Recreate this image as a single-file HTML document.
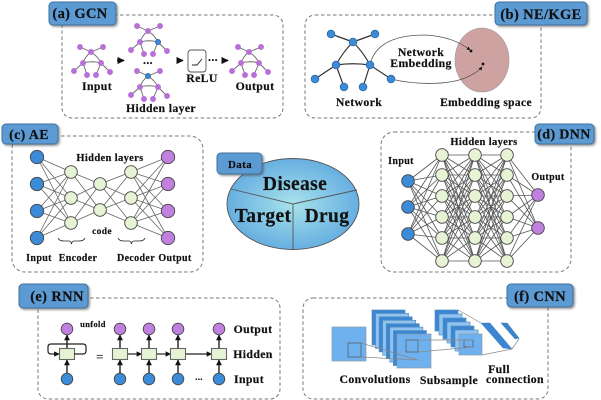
<!DOCTYPE html>
<html><head><meta charset="utf-8"><style>
html,body{margin:0;padding:0;background:#fff;width:601px;height:400px;overflow:hidden}
svg{display:block;filter:blur(.3px)}
text{font-family:"Liberation Serif",serif;font-weight:bold;fill:#111;stroke:#111;stroke-width:.18px;text-anchor:middle;letter-spacing:.35px}
.d{fill:none;stroke:#777;stroke-width:1;stroke-dasharray:3.5 2.5}
.lb{fill:#5b9ad4;stroke:#41719c;stroke-width:1;filter:url(#sh)}
.t{font-size:11.8px}.l{font-size:14.5px}
</style></head><body>
<svg id="s" xmlns="http://www.w3.org/2000/svg" width="601" height="400" viewBox="0 0 601 400">
<defs>
<filter id="sh" x="-20%" y="-20%" width="150%" height="150%"><feDropShadow dx="1.5" dy="1.5" stdDeviation="1" flood-color="#555" flood-opacity=".6"/></filter>
<radialGradient id="pie" cx="50%" cy="50%" r="60%"><stop offset="0" stop-color="#a8e2ea"/><stop offset="1" stop-color="#5aa5e0"/></radialGradient>
<marker id="ar" viewBox="0 0 10 10" refX="9" refY="5" markerWidth="4.5" markerHeight="4.5" orient="auto"><path d="M0 0L10 5L0 10z" fill="#111"/></marker>
</defs>
<rect class="d" x="62" y="15" width="221" height="103" rx="10"/>
<rect class="d" x="305" y="15" width="236" height="103" rx="10"/>
<rect class="d" x="12" y="136" width="191" height="136" rx="13"/>
<rect class="d" x="381" y="132" width="190" height="140" rx="13"/>
<rect class="d" x="38" y="298" width="242" height="101" rx="10"/>
<rect class="d" x="303" y="298" width="245" height="101" rx="10"/>

<!-- embedding -->
<ellipse cx="482" cy="60" rx="27" ry="32" fill="#cfa2a2" stroke="#999" stroke-width=".6"/>
<path d="M370 65C375 42 398 35 425 35C445 36 460 42 470 50" fill="none" stroke="#555" stroke-width=".8" marker-end="url(#ar)"/>
<path d="M391 79C420 86 450 84 465 78C472 75 478 72 482 67" fill="none" stroke="#555" stroke-width=".8" marker-end="url(#ar)"/>
<circle cx="471" cy="51" r="1.4" fill="#111"/><circle cx="483" cy="64" r="1.4" fill="#111"/>

<g id="g"></g>

<!-- ReLU -->
<rect x="188" y="50" width="18" height="22" rx="3" fill="#fff" stroke="#555" stroke-width=".9"/>
<path d="M192 65H197L202 59" fill="none" stroke="#222" stroke-width=".9"/>

<!-- Braces -->
<path d="M58 238Q59 241 64 241H69Q71 241 71.500 244Q72 241 74 241H79Q84 241 85 238" fill="none" stroke="#222" stroke-width=".8"/>
<path d="M118 238Q119 241 124 241H129Q131 241 131.500 244Q132 241 134 241H139Q144 241 145 238" fill="none" stroke="#222" stroke-width=".8"/>

<!-- Pie -->
<ellipse cx="293" cy="204" rx="66" ry="45.500" fill="url(#pie)" stroke="#555" stroke-width=".9"/>
<path d="M231 189L293 204L357 190M293 204V249" fill="none" stroke="#555" stroke-width=".9"/>
<rect class="lb" x="217" y="153" width="45" height="21" rx="4"/>

<!-- Loop -->
<path d="M74 354H83Q86 354 86 351V347Q86 344 83 344H51Q48 344 48 347V351Q48 354 51 354H59" fill="none" stroke="#222" stroke-width="1.200" marker-end="url(#ar)"/>

<!-- CNN -->
<g id="cnn"></g>

<!-- labels -->
<rect class="lb" x="49" y="2" width="67" height="23" rx="4"/>
<rect class="lb" x="495" y="2" width="92" height="23" rx="4"/>
<rect class="lb" x="2" y="124" width="56" height="20" rx="4"/>
<rect class="lb" x="535" y="124" width="59" height="20" rx="4"/>
<rect class="lb" x="19" y="284" width="69" height="24" rx="4"/>
<rect class="lb" x="507" y="284" width="66" height="23" rx="4"/>

<text class="l" x="80" y="18">(a) GCN</text>
<text class="l" x="541" y="19">(b) NE/KGE</text>
<text class="l" x="29" y="139" style="font-size:14px">(c) AE</text>
<text class="l" x="564" y="138.500" style="font-size:14px">(d) DNN</text>
<text class="l" x="57" y="301">(e) RNN</text>
<text class="l" x="540" y="301">(f) CNN</text>
<text x="240" y="168" style="font-size:11px">Data</text>
<text x="295" y="190" style="font-size:19.500px">Disease</text>
<text x="263" y="222" style="font-size:19.500px">Target</text>
<text x="327" y="222" style="font-size:19.500px">Drug</text>

<text class="t" x="97" y="90">Input</text>
<text class="t" x="161" y="112">Hidden layer</text>
<text class="t" x="202" y="82">ReLU</text>
<text class="t" x="255" y="90">Output</text>
<text x="148" y="64" class="t">...</text>
<text x="213" y="61" class="t">...</text>

<text class="t" x="421" y="56">Network</text>
<text class="t" x="421" y="67">Embedding</text>
<text class="t" x="359" y="106">Network</text>
<text class="t" x="486" y="106" style="font-size:11.500px">Embedding space</text>

<text x="110" y="161" style="font-size:10.500px">Hidden layers</text>
<text x="102" y="234" style="font-size:9.500px">code</text>
<text x="39" y="261" style="font-size:10px">Input</text>
<text x="78" y="261" style="font-size:10px">Encoder</text>
<text x="136" y="261" style="font-size:10px">Decoder</text>
<text x="175" y="261" style="font-size:10px">Output</text>

<text x="484" y="145" style="font-size:10.500px">Hidden layers</text>
<text x="401" y="164" style="font-size:10px">Input</text>
<text x="548" y="180" style="font-size:10px">Output</text>

<text x="93" y="327" style="font-size:8.500px">unfold</text>
<text x="100" y="361" style="font-size:13px;fill:#555;stroke:#555">=</text>
<text x="199" y="380" style="font-size:9px">...</text>
<text class="t" x="253" y="333">Output</text>
<text class="t" x="253" y="358">Hidden</text>
<text class="t" x="249" y="383">Input</text>

<text class="t" x="375" y="383">Convolutions</text>
<text class="t" x="449" y="384">Subsample</text>
<text class="t" x="499" y="373">Full</text>
<text class="t" x="515" y="383">connection</text>
</svg>
<script>
var NS="http://www.w3.org/2000/svg",G=document.getElementById('g'),C=document.getElementById('cnn');
function el(p,n,a){var e=document.createElementNS(NS,n);for(var k in a)e.setAttribute(k,a[k]);p.appendChild(e);return e}
function ln(a,b,c,d,col,w,mk){var o={x1:a,y1:b,x2:c,y2:d,stroke:col||'#666','stroke-width':w||.8};if(mk)o['marker-end']='url(#ar)';el(G,'line',o)}
function circ(x,y,r,f,s){el(G,'circle',{cx:x,cy:y,r:r,fill:f,stroke:s||'#444','stroke-width':.9})}
var BL='#3b8bd8',GR='#e6f4d5',PU='#c080e0',GP='#b96fd8';
var N=[[80,47],[103,47],[91,52],[83,63],[101,63],[74,71],[87,75],[96,75],[110,72]];
function graph(dx,dy,col,ed,r,blue,w){
 var p=N.map(function(q){return [q[0]+dx,q[1]+dy]});
 [[0,2],[1,2],[3,5],[3,6],[4,7],[4,8]].forEach(function(e){ln(p[e[0]][0],p[e[0]][1],p[e[1]][0],p[e[1]][1],ed,w)});
 [[2,3,-2],[2,4,2]].forEach(function(e){var a=p[e[0]],b=p[e[1]];el(G,'path',{d:'M'+a[0]+' '+a[1]+'Q'+((a[0]+b[0])/2+e[2])+' '+((a[1]+b[1])/2-1)+' '+b[0]+' '+b[1],fill:'none',stroke:ed,'stroke-width':w})});
 var a=p[3],b=p[4];el(G,'path',{d:'M'+a[0]+' '+a[1]+'Q'+(a[0]+b[0])/2+' '+(a[1]-2.500)+' '+b[0]+' '+b[1],fill:'none',stroke:ed,'stroke-width':w});
 p.forEach(function(q,i){circ(q[0],q[1],r,i===blue?BL:col,i===blue?'#2b6ca8':(col===BL?'#2b6ca8':col))});
}
graph(0,0,GP,'#666',2.500,-1,.9);
graph(57,-21,GP,'#666',2.500,4,.9);
graph(57,24,GP,'#666',2.500,2,.9);
graph(158,0,GP,'#666',2.500,-1,.9);
N=[[331,34],[375,34],[353,42],[336,65],[370,65],[315,79],[344,87],[363,87],[391,79]];
graph(0,0,BL,'#333',3.800,-1,1.200);
[[117,124,60.500],[177,183,60.500],[222,228,60.500]].forEach(function(a){ln(a[0],a[2],a[1],a[2],'#111',1.600,1)});
function layers(L,col,w){
 for(var i=0;i<L.length-1;i++)L[i].ys.forEach(function(a){L[i+1].ys.forEach(function(b){ln(L[i].x,a,L[i+1].x,b,col,w)})});
 L.forEach(function(l){l.ys.forEach(function(y){circ(l.x,y,l.r,l.f)})});
}
var y4=[157,184,211,238],y3=[172,198,223],y2=[184,210];
layers([{x:37,ys:y4,r:6.700,f:BL},{x:71,ys:y3,r:6.300,f:GR},{x:100,ys:y2,r:6.300,f:GR},{x:131,ys:y3,r:6.300,f:GR},{x:168,ys:y4,r:6.700,f:PU}],'#666',.8);
var y6=[155,175,196,217,238,261];
layers([{x:408,ys:[181,207,234],r:6.300,f:BL},{x:442,ys:y6,r:6.300,f:GR},{x:475,ys:y6,r:6.300,f:GR},{x:507,ys:y6,r:6.300,f:GR},{x:538,ys:[195,228],r:6.300,f:PU}],'#555',.8);
[67,120,149,178,219].forEach(function(x,i){
 ln(x,373,x,360,'#111',1.300,1);ln(x,348,x,335,'#111',1.300,1);
 circ(x,329,5.800,PU);circ(x,379,5.800,BL);
 if(i>0&&i<4){var n=[149,178,219][i-1];ln(x+7.500,354,n-7.500,354,'#222',1.200,1)}
});
[67,120,149,178,219].forEach(function(x){el(G,'rect',{x:x-7.500,y:348.500,width:15,height:11,fill:GR,stroke:'#666','stroke-width':1.100})});
function sq(x,y,w,h,f,s,op){el(C,'rect',{x:x,y:y,width:w,height:h,fill:f,stroke:s||'#8a9aa8','stroke-width':.7})}
sq(332,327,34,34,'#6fb1ee');sq(348,343,13,14,'none','#555');
var i,x,y;
for(i=0;i<7;i++){x=372+i*25/7;y=310+i*24/7;sq(x,y,33,35,i%2?'#8fc3f2':'#3a86d4','#5b8fb8')}
sq(397,334,34,34,'#6fb1ee');sq(406,340,12,12,'none','#555');
for(i=0;i<6;i++){x=435+i*24/6;y=310+i*24/6;sq(x,y,23,21,i%2?'#8fc3f2':'#3a86d4','#5b8fb8')}
sq(459,334,23,21,'#6fb1ee');sq(464,340,9,7,'none','#555');
el(C,'path',{d:'M361 343L418 360L361 357M418 340H473M418 352L473 347M458 310L481 323M482 355L512 349L519 339L507 323',fill:'none',stroke:'#888','stroke-width':.7});
el(C,'path',{d:'M481 323H490L512 349L503 348Z',fill:'#3a86d4',stroke:'#3a6a9a','stroke-width':.4});
el(C,'path',{d:'M501 323H507L519 338L515 339Z',fill:'#3a86d4',stroke:'#3a6a9a','stroke-width':.4});
</script>
</body></html>
